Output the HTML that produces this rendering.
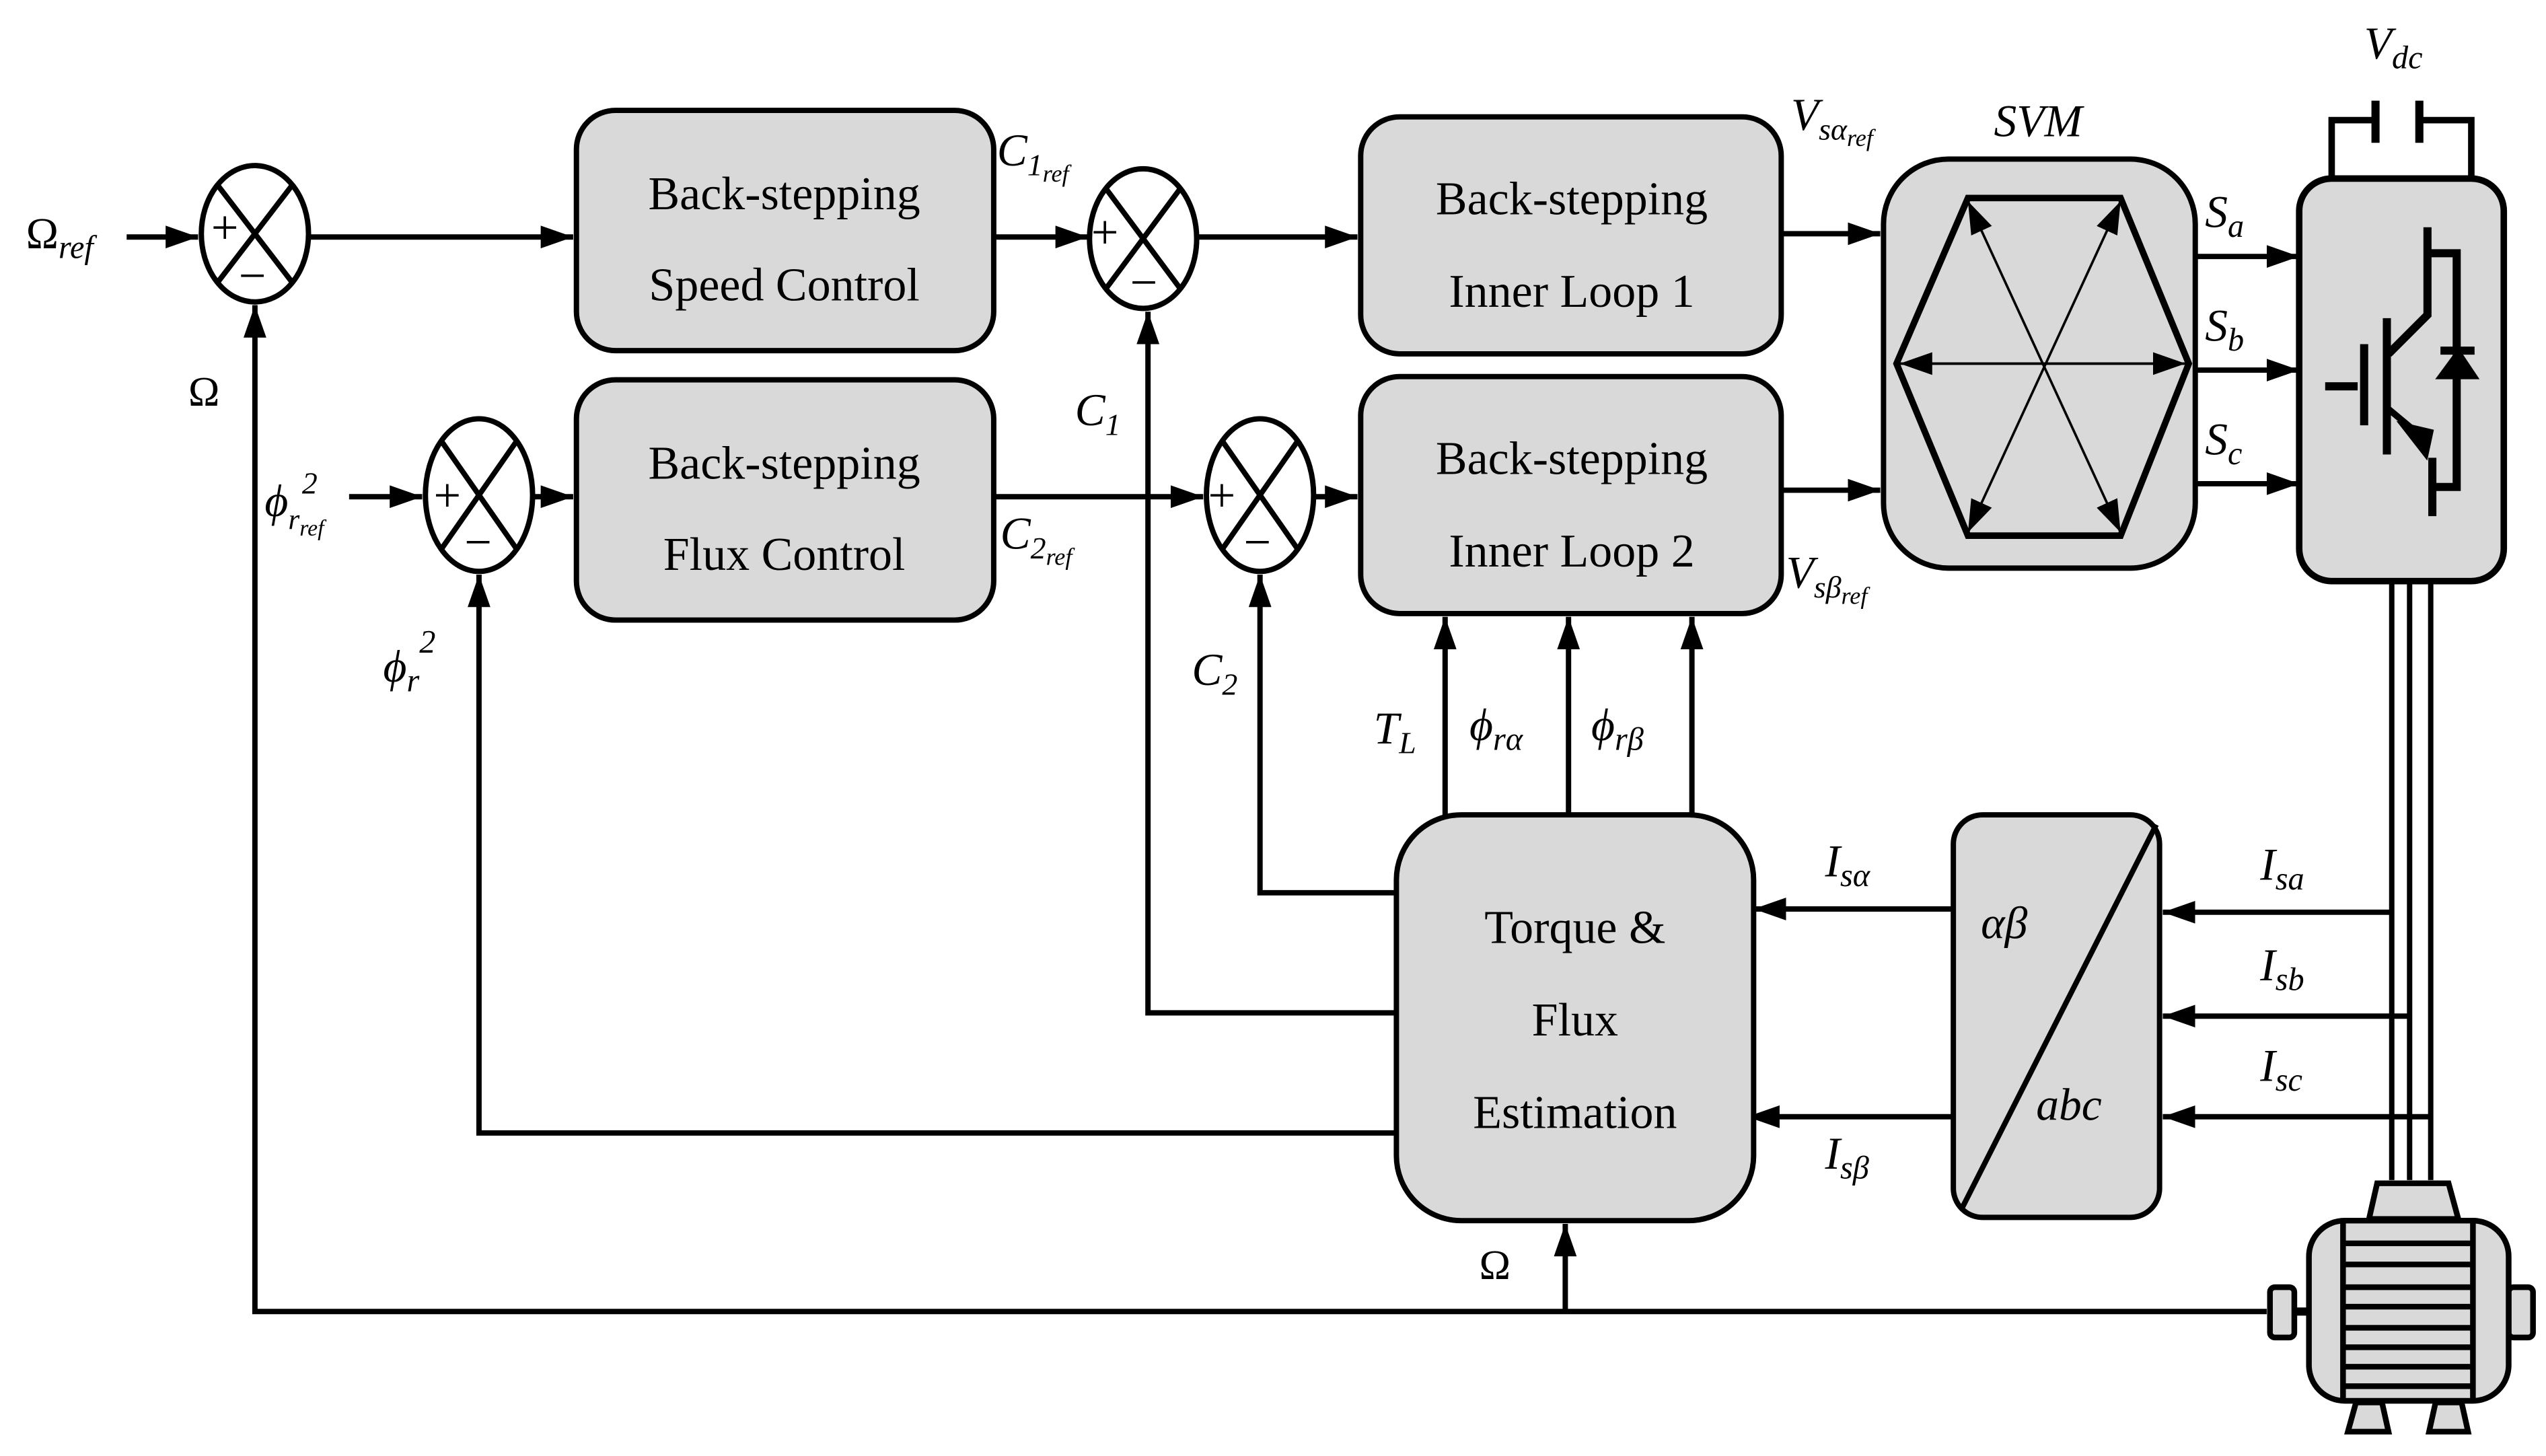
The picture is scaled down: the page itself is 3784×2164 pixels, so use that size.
<!DOCTYPE html>
<html><head><meta charset="utf-8"><style>html,body{margin:0;padding:0;background:#fff}svg{display:block}
text{font-family:"Liberation Serif",serif;fill:#000}
.b{font-size:29px;text-anchor:middle}
.i{font-style:italic;font-size:28px}
</style></head><body>
<svg width="3784" height="2164" viewBox="0 0 1568 897" preserveAspectRatio="none" xmlns="http://www.w3.org/2000/svg">
<defs><marker id="A" markerWidth="20" markerHeight="14" refX="20" refY="7" orient="auto" markerUnits="userSpaceOnUse"><path d="M0,0L20,7L0,14z" fill="#000"/></marker></defs>
<g stroke="#000" stroke-width="3.3" fill="none">
<path d="M78,146H122" marker-end="url(#A)"/>
<path d="M190,146H353" marker-end="url(#A)"/>
<path d="M612,146H670" marker-end="url(#A)"/>
<path d="M737,146H836" marker-end="url(#A)"/>
<path d="M1097,144H1158" marker-end="url(#A)"/>
<path d="M1352,158H1416" marker-end="url(#A)"/>
<path d="M1352,228H1416" marker-end="url(#A)"/>
<path d="M1352,298H1416" marker-end="url(#A)"/>
<path d="M215,306H260" marker-end="url(#A)"/>
<path d="M328,306H353" marker-end="url(#A)"/>
<path d="M612,306H741" marker-end="url(#A)"/>
<path d="M809,306H836" marker-end="url(#A)"/>
<path d="M1097,302H1158" marker-end="url(#A)"/>
<path d="M1396,808H157V188" marker-end="url(#A)"/>
<path d="M964,808V754" marker-end="url(#A)"/>
<path d="M860,624H707V192" marker-end="url(#A)"/>
<path d="M860,550H776V354" marker-end="url(#A)"/>
<path d="M860,698H295V354" marker-end="url(#A)"/>
<path d="M890,502V380" marker-end="url(#A)"/>
<path d="M966,502V380" marker-end="url(#A)"/>
<path d="M1042,502V380" marker-end="url(#A)"/>
<path d="M1203,560H1080" marker-end="url(#A)"/>
<path d="M1203,688H1076" marker-end="url(#A)"/>
<path d="M1473,562H1332" marker-end="url(#A)"/>
<path d="M1484,626H1332" marker-end="url(#A)"/>
<path d="M1497,688H1332" marker-end="url(#A)"/>
<path d="M1473,358V727M1484,358V727M1497,358V727"/>
<g fill="#d9d9d9">
<rect x="355" y="68" width="257" height="148" rx="24"/>
<rect x="355" y="234" width="257" height="148" rx="24"/>
<rect x="838" y="72" width="259" height="146" rx="24"/>
<rect x="838" y="232" width="259" height="146" rx="24"/>
<rect x="1160" y="98" width="192" height="252" rx="40"/>
<rect x="860" y="502" width="220" height="250" rx="40"/>
<rect x="1203" y="502" width="127" height="248" rx="18"/>
<rect x="1416" y="110" width="126" height="248" rx="20" stroke-width="4"/>
</g>
<path d="M1208,745L1328,508"/>
<g fill="#fff">
<ellipse cx="157" cy="144" rx="33" ry="42"/><ellipse cx="295" cy="305" rx="33" ry="47"/>
<ellipse cx="704" cy="147" rx="33" ry="43"/><ellipse cx="776" cy="305" rx="33" ry="47"/>
</g>
<path d="M134,114L180,174M180,114L134,174M272,272L318,338M318,272L272,338M681,116L727,178M727,116L681,178M753,272L799,338M799,272L753,338"/>
<path d="M1168,224L1212,122H1306L1348,224L1306,330H1212Z" stroke-width="4"/>
<g stroke-width="1.5">
<path d="M1170,224H1346" marker-end="url(#A)"/><path d="M1346,224H1170" marker-end="url(#A)"/>
<path d="M1259,226L1212,124" marker-end="url(#A)"/><path d="M1259,226L1306,124" marker-end="url(#A)"/>
<path d="M1259,226L1212,328" marker-end="url(#A)"/><path d="M1259,226L1306,328" marker-end="url(#A)"/>
</g>
<path d="M1436,110V74H1462M1522,110V74H1490" stroke-width="4"/>
<path d="M1463,62V88M1490,62V88" stroke-width="5"/>
<g stroke-width="5">
<path d="M1432,238H1452M1456,212V262M1470,196V280"/>
<path d="M1471,218L1495,194V140M1495,156H1513V300H1498M1498,282V318"/>
<path d="M1471,252L1495,272" stroke-width="4"/>
<path d="M1503,216H1524"/>
</g>
<path d="M1503,232L1514,217L1524,232Z" fill="#000"/>
<path d="M1480,262L1494,280L1497,266Z" fill="#000"/>
<g fill="#d9d9d9" stroke-width="3.5">
<path d="M1459,751L1464,729H1508L1514,751Z"/>
<rect x="1398" y="793" width="15" height="31" rx="3"/>
<rect x="1545" y="793" width="15" height="31" rx="3"/>
<path d="M1446,882L1451,864H1467L1471,882Z"/>
<path d="M1496,882L1500,864H1516L1520,882Z"/>
<rect x="1422" y="752" width="123" height="111" rx="22"/>
<path d="M1443,752V863M1523,752V863M1443,766H1523M1443,779H1523M1443,793H1523M1443,805H1523M1443,818H1523M1443,830H1523M1443,842H1523M1443,854H1523"/>
</g>
<path d="M1413,808H1422" stroke-width="5"/>
</g>
<g font-size="30">
<text x="130" y="150">+</text><text x="147" y="180">−</text>
<text x="267" y="315">+</text><text x="286" y="344">−</text>
<text x="672" y="153">+</text><text x="696" y="184">−</text>
<text x="744" y="315">+</text><text x="766" y="344">−</text>
</g>
<text class="b" x="483" y="129">Back-stepping</text><text class="b" x="483" y="185">Speed Control</text>
<text class="b" x="483" y="295">Back-stepping</text><text class="b" x="483" y="351">Flux Control</text>
<text class="b" x="968" y="132">Back-stepping</text><text class="b" x="968" y="189">Inner Loop 1</text>
<text class="b" x="968" y="292">Back-stepping</text><text class="b" x="968" y="349">Inner Loop 2</text>
<text class="b" x="970" y="581">Torque &amp;</text><text class="b" x="970" y="638">Flux</text><text class="b" x="970" y="695">Estimation</text>
<text x="16" y="153" font-size="27">Ω<tspan font-style="italic" font-size="20" dy="6">ref</tspan></text>
<text x="116" y="250" font-size="26">Ω</text>
<text x="911" y="788" font-size="26">Ω</text>
<text class="i" x="163" y="318">ϕ<tspan font-size="18" dy="8">r</tspan><tspan font-size="14" dy="4">ref</tspan><tspan font-size="19" x="186" y="304">2</tspan></text>
<text class="i" x="236" y="420">ϕ<tspan font-size="20" dy="6">r</tspan><tspan font-size="20" dy="-24">2</tspan></text>
<text class="i" x="614" y="102">C<tspan font-size="19" dy="6">1</tspan><tspan font-size="15" dy="4">ref</tspan></text>
<text class="i" x="662" y="262">C<tspan font-size="19" dy="6">1</tspan></text>
<text class="i" x="616" y="338">C<tspan font-size="19" dy="6">2</tspan><tspan font-size="15" dy="4">ref</tspan></text>
<text class="i" x="734" y="422">C<tspan font-size="19" dy="6">2</tspan></text>
<text class="i" x="846" y="458">T<tspan font-size="19" dy="6">L</tspan></text>
<text class="i" x="905" y="456">ϕ<tspan font-size="20" dy="6">rα</tspan></text>
<text class="i" x="980" y="456">ϕ<tspan font-size="20" dy="6">rβ</tspan></text>
<text class="i" x="1103" y="80">V<tspan font-size="19" dy="6">sα</tspan><tspan font-size="15" dy="4">ref</tspan></text>
<text class="i" x="1100" y="362">V<tspan font-size="19" dy="6">sβ</tspan><tspan font-size="15" dy="4">ref</tspan></text>
<text class="i" x="1228" y="84">SVM</text>
<text class="i" x="1456" y="36">V<tspan font-size="20" dy="6">dc</tspan></text>
<text class="i" x="1358" y="140">S<tspan font-size="20" dy="6">a</tspan></text>
<text class="i" x="1358" y="210">S<tspan font-size="20" dy="6">b</tspan></text>
<text class="i" x="1358" y="280">S<tspan font-size="20" dy="6">c</tspan></text>
<text class="i" x="1124" y="540">I<tspan font-size="20" dy="6">sα</tspan></text>
<text class="i" x="1124" y="720">I<tspan font-size="20" dy="6">sβ</tspan></text>
<text class="i" x="1392" y="542">I<tspan font-size="20" dy="6">sa</tspan></text>
<text class="i" x="1392" y="604">I<tspan font-size="20" dy="6">sb</tspan></text>
<text class="i" x="1392" y="666">I<tspan font-size="20" dy="6">sc</tspan></text>
<text class="i" x="1220" y="578">αβ</text>
<text class="i" x="1254" y="690">abc</text>
</svg>
</body></html>
